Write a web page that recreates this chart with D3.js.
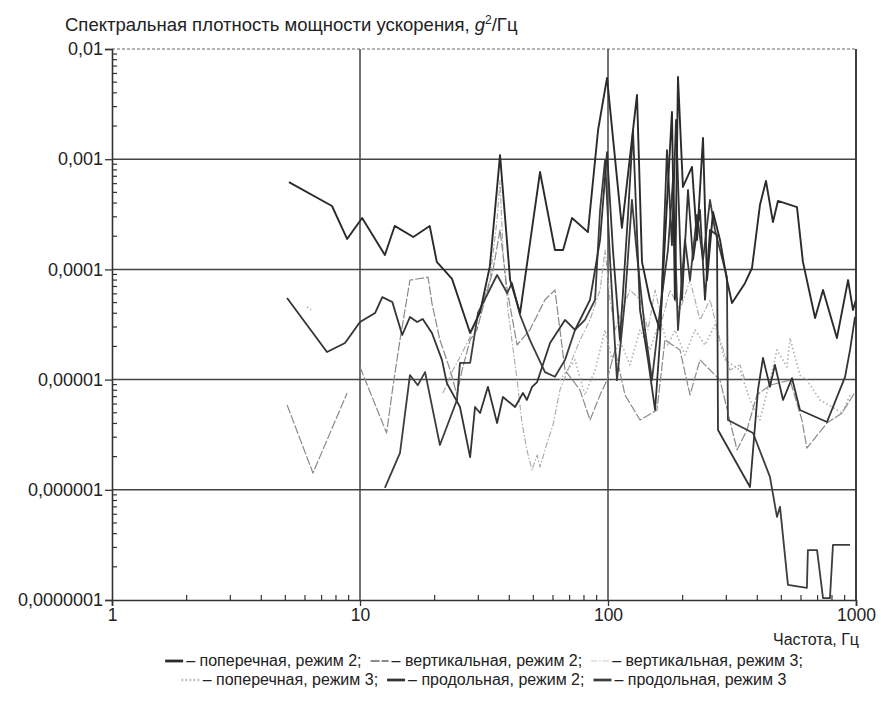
<!DOCTYPE html>
<html>
<head>
<meta charset="utf-8">
<title>Спектральная плотность мощности ускорения</title>
<script src="https://d3js.org/d3.v7.min.js"></script>
<style>
  body { margin: 0; background: #fff; }
  text { font-family: "Liberation Sans", Arial, sans-serif; fill: #222; }
</style>
</head>
<body>
<div id="chart"></div>
<script>
// оси
const xTickValues = [1, 10, 100, 1000];
const xTickLabels = ["1", "10", "100", "1000"];
const yTickValues = [1e-7, 1e-6, 1e-5, 1e-4, 1e-3, 1e-2];
const yTickLabels = ["0,0000001", "0,000001", "0,00001", "0,0001", "0,001", "0,01"];

// [частота, Гц ; СПМ, g2/Гц], null = разрыв
const poperech2 = [
  [5.17, 6.2e-4], [7.71, 3.76e-4], [8.87, 1.89e-4], [10.2, 2.93e-4], [12.6, 1.35e-4],
  [13.8, 2.48e-4], [16.4, 1.97e-4], [19.1, 2.48e-4], [20.4, 1.17e-4], [23.5, 8.2e-5],
  [27.8, 2.65e-5], [30.5, 4.1e-5], [33.4, 1.07e-4], [36.7, 1.09e-3], [40.3, 8.0e-5],
  [44.2, 4.02e-5], [53.2, 7.65e-4], [61.1, 1.5e-4], [65.9, 1.5e-4], [71.6, 2.93e-4],
  [83.0, 2.18e-4], [91.2, 1.84e-3], [99.1, 5.46e-3], [113.8, 2.38e-4], [130.9, 3.83e-3],
  [137.1, 1.17e-4], [147.6, 5.3e-5], [162.1, 2.82e-5], [181.1, 2.68e-3], [186.2, 5.3e-5],
  [191.5, 5.57e-3], [200.5, 5.6e-4], [218.1, 8.5e-4], [228.5, 1.85e-4], [241.6, 1.56e-3],
  [250.7, 8.0e-5], [265.1, 3.32e-4], [282.9, 1.85e-4], [301.7, 8.0e-5], [316.2, 4.95e-5],
  [356.7, 7.5e-5], [380.8, 1.03e-4], [409.9, 3.84e-4], [433.5, 6.34e-4], [462.6, 2.69e-4],
  [484.4, 4.18e-4], [578.1, 3.68e-4], [610.9, 1.17e-4], [683.9, 3.62e-5], [736.2, 6.5e-5],
  [837.5, 2.38e-5], [928.9, 8.0e-5], [972.6, 4.28e-5], [1000, 5.3e-5]
];

const vertik2 = [
  [5.08, 5.9e-6], [6.46, 1.42e-6], [8.87, 7.55e-6], [9.5, null],
  [10.0, 1.3e-5], [12.8, 3.28e-6], [13.6, 8.9e-6], [14.5, 2.29e-5], [15.9, 8.0e-5],
  [18.8, 8.5e-5], [19.5, 4.95e-5], [21.0, 2.29e-5], [23.1, 1.22e-5], [24.6, 7.25e-6],
  [25.8, 1.22e-5], [27.8, 2.29e-5], [29.6, 2.82e-5], [31.9, 5.3e-5], [34.4, 9.9e-5],
  [36.7, 2.28e-4], [39.2, 6.5e-5], [43.0, 2.06e-5], [48.4, 2.82e-5], [55.7, 5.3e-5],
  [61.1, 6.5e-5], [67.1, 1.22e-5], [77.1, 8.05e-6], [84.6, 4.3e-6], [92.9, 7.25e-6],
  [99.1, 9.9e-6], [106.7, 1.86e-5], [117.1, 7.25e-6], [134.6, 4.3e-6], [157.6, 5.3e-6],
  [169.7, 2.29e-5], [195.1, 1.86e-5], [214.1, 7.25e-6], [234.9, 1.51e-5], [282.9, 9.9e-6],
  [331.3, 2.3e-6], [363.4, 3.49e-6], [398.7, 7.25e-6], [449.8, 8.9e-6], [541.9, 9.9e-6],
  [605.3, 4.3e-6], [633.9, 2.39e-6], [763.8, 4.04e-6], [879, 4.98e-6], [991, 7.7e-6]
];

const vertik3 = [
  [21.6, 7.55e-6], [23.7, 1.22e-5], [25.3, 1.6e-5], [27.8, 2.44e-5], [30.5, 4.28e-5],
  [33.4, 8.0e-5], [35.7, 2.81e-4], [36.7, 6.47e-4], [37.7, 1.5e-4], [39.5, 4.28e-5],
  [43.0, 9.9e-6], [45.0, 4.04e-6], [47.1, 2.3e-6], [49.4, 1.51e-6], [51.8, 2.07e-6],
  [53.2, 1.61e-6], [56.8, 2.66e-6], [60.0, 3.87e-6], [64.0, 8.05e-6], [71.6, 1.51e-5],
  [77.1, 2.29e-5], [84.6, 3.48e-5], [92.9, 6.5e-5], [97.3, 1.5e-4], [101.9, 5.3e-5],
  [106.7, 2.82e-5], [113.8, 4.28e-5], [122.6, 6.5e-5], [134.6, 5.3e-5], [145.0, 2.82e-5],
  [154.8, 6.5e-5], [165.1, 3.48e-5], [177.8, 6.5e-5], [195.1, 4.28e-5], [214.1, 8.0e-5],
  [234.9, 3.48e-5], [257.8, 5.3e-5], [282.9, 2.29e-5], [310.2, 1.22e-5], [340.7, 1.36e-5],
  [356.7, 9.9e-6]
];

const poperech3 = [
  [6.11, 4.56e-5], [6.35, 4.3e-5], [7.0, null],
  [64.0, 9.9e-6], [73.6, 1.51e-5], [80.7, 7.25e-6], [88.7, 1.22e-5], [97.3, 2.82e-5],
  [103.8, 1.51e-5], [111.7, 2.29e-5], [122.6, 1.36e-5], [134.6, 2.82e-5], [147.6, 1.86e-5],
  [162.1, 3.48e-5], [174.5, 2.06e-5], [186.2, 2.82e-5], [204.3, 1.67e-5], [224.3, 2.82e-5],
  [246.1, 2.06e-5], [270.0, 3.13e-5], [296.2, 1.51e-5], [340.7, 1.22e-5], [373.8, 6.53e-6],
  [409.9, 4.3e-6], [449.8, 9.9e-6], [480.1, 1.86e-5], [526.8, 1.3e-5], [541.9, 2.38e-5],
  [594.3, 1.1e-5], [633.9, 9.9e-6], [716.1, 6.53e-6], [879, 4.98e-6], [946.2, 7.25e-6]
];

const prodol2 = [
  [5.08, 5.5e-5], [7.36, 1.78e-5], [8.70, 2.15e-5], [10.0, 3.33e-5], [11.5, 4.02e-5],
  [12.3, 5.6e-5], [13.5, 5.06e-5], [14.8, 2.54e-5], [15.9, 3.7e-5], [17.0, 3.33e-5],
  [17.9, 3.55e-5], [19.5, 2.65e-5], [21.4, 1.51e-5], [22.4, 9.3e-6], [25.3, 5.64e-6],
  [27.8, 1.98e-6], [29.1, 5.64e-6], [30.5, 4.98e-6], [32.8, 8.6e-6], [35.7, 4.04e-6],
  [37.7, 6.95e-6], [42.2, 5.64e-6], [45.4, 7.55e-6], [47.1, 6.53e-6], [49.4, 8.6e-6],
  [51.8, 9.5e-6], [58.4, 2.15e-5], [67.1, 3.48e-5], [73.6, 2.82e-5], [84.6, 5.3e-5],
  [92.9, 1.85e-4], [99.1, 1.16e-3], [104.7, 1.5e-4], [111.7, 2.29e-5], [120.4, 3.12e-4],
  [126.1, 1.84e-3], [134.6, 4.28e-5], [145.0, 1.51e-5], [154.8, 5.3e-6], [162.1, 2.29e-5],
  [172.9, 1.21e-3], [181.1, 1.66e-4], [188.0, 2.27e-3], [198.7, 5.3e-5], [210.2, 5.26e-4],
  [220.2, 1.22e-4], [234.9, 3.46e-4], [246.1, 5.3e-5], [257.8, 2.28e-4], [275.1, 2.05e-4],
  [277.7, 3.49e-6], [373.8, 1.06e-6], [402.4, 8.05e-6], [421.7, 1.57e-5], [449.8, 8.6e-6],
  [471.2, 1.36e-5], [508.0, 6.53e-6], [552.1, 1.03e-5], [594.3, 5.3e-6], [763.8, 4.12e-6],
  [903.6, 1.06e-5], [946.2, 1.86e-5], [991, 3.7e-5]
];

const prodol3 = [
  [12.6, 1.04e-6], [14.5, 2.16e-6], [15.9, 1.1e-5], [17.1, 8.9e-6], [18.3, 1.17e-5],
  [21.0, 2.55e-6], [24.6, 6.53e-6], [25.3, 1.42e-5], [27.8, 1.42e-5], [29.9, 4.02e-5],
  [35.7, 8.9e-5], [39.2, 6.1e-5], [41.0, 7.5e-5], [44.2, 3.86e-5], [48.4, 2.29e-5],
  [55.7, 1.17e-5], [61.1, 1.06e-5], [67.1, 1.51e-5], [73.6, 2.82e-5], [80.7, 3.48e-5],
  [88.7, 5.3e-5], [92.9, 3.46e-4], [97.3, 9.8e-4], [101.9, 1.22e-4], [108.7, 9.9e-6],
  [117.1, 5.3e-5], [124.9, 4.27e-4], [130.9, 1.35e-4], [141.0, 2.82e-5], [150.4, 9.9e-6],
  [162.1, 4.28e-5], [174.5, 1.5e-4], [182.8, 6.47e-4], [191.5, 2.82e-5], [204.3, 1.85e-4],
  [214.1, 8.0e-5], [228.5, 3.12e-4], [241.6, 1.22e-4], [257.8, 4.27e-4], [270.0, 2.28e-4],
  [301.7, 8.5e-5], [304.5, 4.3e-6], [384.4, 3.28e-6], [449.8, 1.31e-6], [480.1, 5.67e-7],
  [493.9, 7.0e-7], [531.6, 1.37e-7], [633.9, 1.29e-7], [639.7, 2.84e-7], [696.6, 2.84e-7],
  [736.2, 1.04e-7], [785.3, 1.04e-7], [807.4, 3.16e-7], [946.2, 3.16e-7]
];

const seriesNames = [
  "поперечная, режим 2", "вертикальная, режим 2", "вертикальная, режим 3",
  "поперечная, режим 3", "продольная, режим 2", "продольная, режим 3"
];
const seriesData = [poperech2, vertik2, vertik3, poperech3, prodol2, prodol3];

const styles = [
  { color: "#2b2b2b", width: 1.9, dash: null },
  { color: "#8a8a8a", width: 1.2, dash: "9,2" },
  { color: "#a8a8a8", width: 1.1, dash: "6,2,1.5,2" },
  { color: "#b0b0b0", width: 1.6, dash: "1.5,2.5" },
  { color: "#333333", width: 1.8, dash: null },
  { color: "#3d3d3d", width: 1.8, dash: null }
];

const W = 881, H = 704;
const margin = { left: 112, right: 25, top: 49, bottom: 104 };

const svg = d3.select("#chart").append("svg")
  .attr("width", W).attr("height", H);

const x = d3.scaleLog().domain([1, 1000]).range([margin.left, W - margin.right]);
const y = d3.scaleLog().domain([1e-7, 1e-2]).range([H - margin.bottom, margin.top]);

// минорные деления
const xMinor = x.ticks().filter(v => xTickValues.indexOf(v) < 0);
const yMinor = y.ticks().filter(v => yTickValues.indexOf(v) < 0);

// сетка
svg.append("g").selectAll("line.h")
  .data(yTickValues.slice(1))
  .join("line")
  .attr("x1", x(1)).attr("x2", x(1000))
  .attr("y1", d => y(d)).attr("y2", d => y(d))
  .attr("stroke", d => d === 1e-2 ? "#666" : "#444")
  .attr("stroke-width", d => d === 1e-2 ? 1.1 : 1.5)
  .attr("stroke-dasharray", d => d === 1e-2 ? "3,2" : null);

svg.append("g").selectAll("line.v")
  .data(xTickValues.slice(1))
  .join("line")
  .attr("x1", d => x(d)).attr("x2", d => x(d))
  .attr("y1", y(1e-7)).attr("y2", y(1e-2))
  .attr("stroke", "#444")
  .attr("stroke-width", 1.5);

// серии
const line = d3.line()
  .defined(d => d[1] !== null)
  .x(d => x(d[0]))
  .y(d => y(d[1]));

const order = [3, 2, 1, 5, 4, 0];
svg.append("g").selectAll("path")
  .data(order)
  .join("path")
  .attr("d", i => line(seriesData[i]))
  .attr("fill", "none")
  .attr("stroke", i => styles[i].color)
  .attr("stroke-width", i => styles[i].width)
  .attr("stroke-dasharray", i => styles[i].dash)
  .attr("stroke-linejoin", "round");

// оси
const yAxis = d3.axisLeft(y)
  .tickValues(yTickValues)
  .tickFormat((d, i) => yTickLabels[i])
  .tickSize(7)
  .tickPadding(2);
const yg = svg.append("g")
  .attr("transform", "translate(" + x(1) + ",0)")
  .call(yAxis);
yg.selectAll("text").style("font-size", "18px");

const xAxis = d3.axisBottom(x)
  .tickValues(xTickValues)
  .tickFormat((d, i) => xTickLabels[i])
  .tickSize(6)
  .tickPadding(3);
const xg = svg.append("g")
  .attr("transform", "translate(0," + y(1e-7) + ")")
  .call(xAxis);
xg.selectAll("text").style("font-size", "17.5px");

[yg, xg].forEach(g => {
  g.select(".domain").attr("stroke", "#333").attr("stroke-width", 1.6);
  g.selectAll(".tick line").attr("stroke", "#333").attr("stroke-width", 1.3);
  g.selectAll("text").attr("fill", "#222");
});

svg.append("line")
  .attr("x1", x(1000)).attr("x2", x(1000))
  .attr("y1", y(1e-7)).attr("y2", y(1e-2))
  .attr("stroke", "#333").attr("stroke-width", 1.6);

svg.append("g").selectAll("line")
  .data(yMinor)
  .join("line")
  .attr("x1", x(1)).attr("x2", x(1) + 5)
  .attr("y1", d => y(d)).attr("y2", d => y(d))
  .attr("stroke", "#333").attr("stroke-width", 1.2);

svg.append("g").selectAll("line")
  .data(xMinor)
  .join("line")
  .attr("x1", d => x(d)).attr("x2", d => x(d))
  .attr("y1", y(1e-7)).attr("y2", y(1e-7) - 5)
  .attr("stroke", "#333").attr("stroke-width", 1.2);

// подписи
const title = svg.append("text")
  .attr("x", 65).attr("y", 31)
  .style("font-size", "18.5px");
title.append("tspan").text("Спектральная плотность мощности ускорения, ");
title.append("tspan").attr("font-style", "italic").text("g");
title.append("tspan").attr("dy", -7).style("font-size", "12px").text("2");
title.append("tspan").attr("dy", 7).text("/Гц");

svg.append("text")
  .attr("x", x(1000) + 3).attr("y", 645)
  .attr("text-anchor", "end")
  .style("font-size", "16px")
  .text("Частота, Гц");

// легенда
const legendRows = [[0, 1, 2], [3, 4, 5]];
const legendY = [666, 685];
legendRows.forEach((row, r) => {
  const g = svg.append("g");
  let cx = 0;
  row.forEach((si, k) => {
    g.append("line")
      .attr("x1", cx).attr("x2", cx + 18)
      .attr("y1", -5).attr("y2", -5)
      .attr("stroke", si === 2 ? "#e4e4e4" : styles[si].color)
      .attr("stroke-width", styles[si].width + 0.9)
      .attr("stroke-dasharray", styles[si].dash);
    const label = "– " + seriesNames[si] + (k < row.length - 1 || r === 0 ? ";" : "");
    const t = g.append("text")
      .attr("x", cx + 21).attr("y", 0)
      .style("font-size", "16px")
      .text(label);
    cx += 21 + t.node().getComputedTextLength() + 9;
  });
  const total = cx - 9;
  g.attr("transform", "translate(" + ((x(1) + x(1000)) / 2 - total / 2) + "," + legendY[r] + ")");
});
</script>
</body>
</html>
